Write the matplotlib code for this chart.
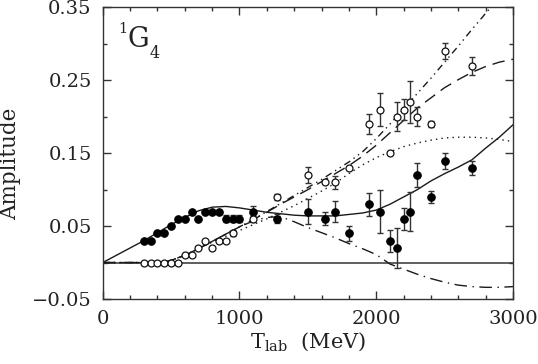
import numpy as np
import matplotlib
matplotlib.use("Agg")
import matplotlib.pyplot as plt
from matplotlib.ticker import FixedLocator, MultipleLocator

plt.rcParams['font.family'] = ['DejaVu Serif']
plt.rcParams['mathtext.fontset'] = 'dejavuserif'

# ---------------- data ----------------
# filled points
T_filled = [300, 350, 400, 450, 500, 550, 600, 650, 700, 750, 800, 850, 900, 950, 1000,
            1100, 1275, 1500, 1625, 1700, 1800, 1950, 2025, 2100, 2150, 2200, 2250, 2300,
            2400, 2500, 2700]
A_filled = [0.030, 0.030, 0.040, 0.040, 0.050, 0.060, 0.060, 0.070, 0.060, 0.070, 0.070,
            0.070, 0.060, 0.060, 0.060, 0.070, 0.060, 0.070, 0.060, 0.070, 0.040, 0.080,
            0.070, 0.030, 0.020, 0.060, 0.070, 0.120, 0.090, 0.140, 0.130]
E_filled = [0, 0, 0, 0, 0, 0, 0, 0, 0, 0, 0, 0, 0.005, 0.005, 0.005, 0.007, 0.006, 0.017,
            0.009, 0.015, 0.010, 0.016, 0.029, 0.015, 0.027, 0.015, 0.027, 0.016, 0.008,
            0.011, 0.010]

# open points
T_open = [300, 350, 400, 450, 500, 550, 600, 650, 700, 750, 800, 850, 900, 950, 1100,
          1275, 1500, 1625, 1700, 1800, 1950, 2025, 2100, 2150, 2200, 2250, 2300, 2400,
          2500, 2700]
A_open = [0.0, 0.0, 0.0, 0.0, 0.0, 0.0, 0.010, 0.010, 0.020, 0.030, 0.020, 0.030, 0.030,
          0.040, 0.060, 0.090, 0.120, 0.110, 0.110, 0.130, 0.190, 0.210, 0.150, 0.200,
          0.210, 0.220, 0.200, 0.190, 0.290, 0.270]
E_open = [0, 0, 0, 0, 0, 0, 0, 0, 0, 0, 0, 0, 0, 0.004, 0.004, 0.004, 0.011, 0, 0.009, 0,
          0.014, 0.023, 0, 0.020, 0.015, 0.029, 0.013, 0.004, 0.011, 0.012]

# curves
T_curve = [0, 100, 200, 300, 400, 500, 600, 700, 800, 900, 1000, 1100, 1200, 1300, 1400,
           1500, 1600, 1700, 1800, 1900, 2000, 2100, 2200, 2300, 2400, 2500, 2600, 2700,
           2800, 2900, 3000]
A_solid = [0.0, 0.010, 0.020, 0.030, 0.041, 0.052, 0.062, 0.071, 0.076, 0.077, 0.075,
           0.072, 0.069, 0.067, 0.065, 0.064, 0.064, 0.064, 0.066, 0.068, 0.072, 0.080,
           0.090, 0.100, 0.112, 0.122, 0.131, 0.141, 0.157, 0.172, 0.189]
A_dotted = [0.0, 0.0, 0.0, 0.0, 0.0, 0.003, 0.010, 0.019, 0.028, 0.036, 0.044, 0.052,
            0.060, 0.069, 0.078, 0.088, 0.098, 0.109, 0.122, 0.134, 0.144, 0.152, 0.159,
            0.164, 0.168, 0.171, 0.172, 0.172, 0.171, 0.169, 0.166]
A_dashed = [0.0, 0.0, 0.0, 0.0, 0.0, 0.003, 0.010, 0.019, 0.029, 0.039, 0.049, 0.059,
            0.069, 0.080, 0.090, 0.100, 0.111, 0.122, 0.133, 0.146, 0.161, 0.178, 0.195,
            0.212, 0.226, 0.240, 0.251, 0.261, 0.269, 0.275, 0.279]
A_dashdotdot = [0.0, 0.0, 0.0, 0.0, 0.0, 0.003, 0.010, 0.019, 0.029, 0.039, 0.049, 0.059,
                0.070, 0.081, 0.092, 0.103, 0.114, 0.126, 0.138, 0.152, 0.170, 0.190,
                0.211, 0.232, 0.253, 0.275, 0.297, 0.320, 0.342, 0.364, 0.386]
A_dashdot = [0.0, 0.0, 0.0, 0.0, 0.0, 0.003, 0.010, 0.019, 0.029, 0.039, 0.049, 0.057,
             0.062, 0.063, 0.056, 0.048, 0.041, 0.034, 0.026, 0.019, 0.011, -0.002,
             -0.009, -0.016, -0.022, -0.027, -0.031, -0.033, -0.034, -0.034, -0.033]

x_ticks = [0, 1000, 2000, 3000]
x_tick_labels = ['0', '1000', '2000', '3000']
y_ticks = [-0.05, 0.05, 0.15, 0.25, 0.35]
y_tick_labels = ['\u22120.05', '0.05', '0.15', '0.25', '0.35']

# ---------------- figure ----------------
fig = plt.figure(figsize=(5.38, 3.64), dpi=100)
ax = fig.add_axes([0.191, 0.1786, 0.7625, 0.8008])

ink = '#1a1a1a'
ax.axhline(0, color='#444444', lw=1.2, zorder=1)

ax.plot(T_curve, A_solid, color=ink, lw=1.0, zorder=2)
ax.plot(T_curve, A_dotted, color=ink, lw=1.0, dashes=(1.0, 3.0), zorder=2)
ax.plot(T_curve, A_dashed, color=ink, lw=1.0, dashes=(9, 5), zorder=2)
ax.plot(T_curve, A_dashdotdot, color=ink, lw=1.0, dashes=(5, 3, 1, 3, 1, 3), zorder=2)
ax.plot(T_curve, A_dashdot, color=ink, lw=1.0, dashes=(9, 4, 1, 4), zorder=2)

Tf = np.array(T_filled); Af = np.array(A_filled); Ef = np.array(E_filled)
To = np.array(T_open); Ao = np.array(A_open); Eo = np.array(E_open)
mf = Ef > 0
mo = Eo > 0
ax.errorbar(Tf[mf], Af[mf], yerr=Ef[mf], fmt='none', ecolor='#333333',
            elinewidth=1.0, capsize=2.3, capthick=1.0, zorder=3)
ax.errorbar(To[mo], Ao[mo], yerr=Eo[mo], fmt='none', ecolor='#333333',
            elinewidth=1.0, capsize=2.3, capthick=1.0, zorder=3)
ax.plot(Tf, Af, 'o', ms=5.4, mfc='black', mec='black', mew=0.8, zorder=4)
ax.plot(To, Ao, 'o', ms=5.0, mfc='white', mec='#111111', mew=0.9, zorder=4)

ax.set_xlim(0, 3000)
ax.set_ylim(-0.05, 0.35)
ax.xaxis.set_major_locator(FixedLocator(x_ticks))
ax.set_xticklabels(x_tick_labels)
ax.xaxis.set_minor_locator(MultipleLocator(200))
ax.yaxis.set_major_locator(FixedLocator(y_ticks))
ax.set_yticklabels(y_tick_labels)
ax.yaxis.set_minor_locator(MultipleLocator(0.05))

ax.tick_params(which='both', direction='in', top=True, right=True, colors='#333333',
               labelcolor='#222222', width=1.0)
ax.tick_params(which='major', length=5.5, labelsize=14, pad=8)
ax.tick_params(which='minor', length=3.0)
for s in ax.spines.values():
    s.set_linewidth(1.0)
    s.set_color('#333333')

ax.set_ylabel('Amplitude', fontsize=15.5, color='#222222')
ax.yaxis.set_label_coords(-0.198, 0.465)
ax.set_xlabel(r'T$_{\rm lab}$  (MeV)', fontsize=15, color='#222222', labelpad=2)

# partial-wave label 1G4 built from superscript, letter and subscript
ax.text(0.038, 0.9115, '1', transform=ax.transAxes, fontsize=10.5,
        ha='left', va='baseline', color='#222222')
ax.text(0.060, 0.8655, 'G', transform=ax.transAxes, fontsize=19.5,
        ha='left', va='baseline', color='#222222')
ax.text(0.1153, 0.8257, '4', transform=ax.transAxes, fontsize=11.5,
        ha='left', va='baseline', color='#222222')

fig.savefig('out.png', dpi=100)
